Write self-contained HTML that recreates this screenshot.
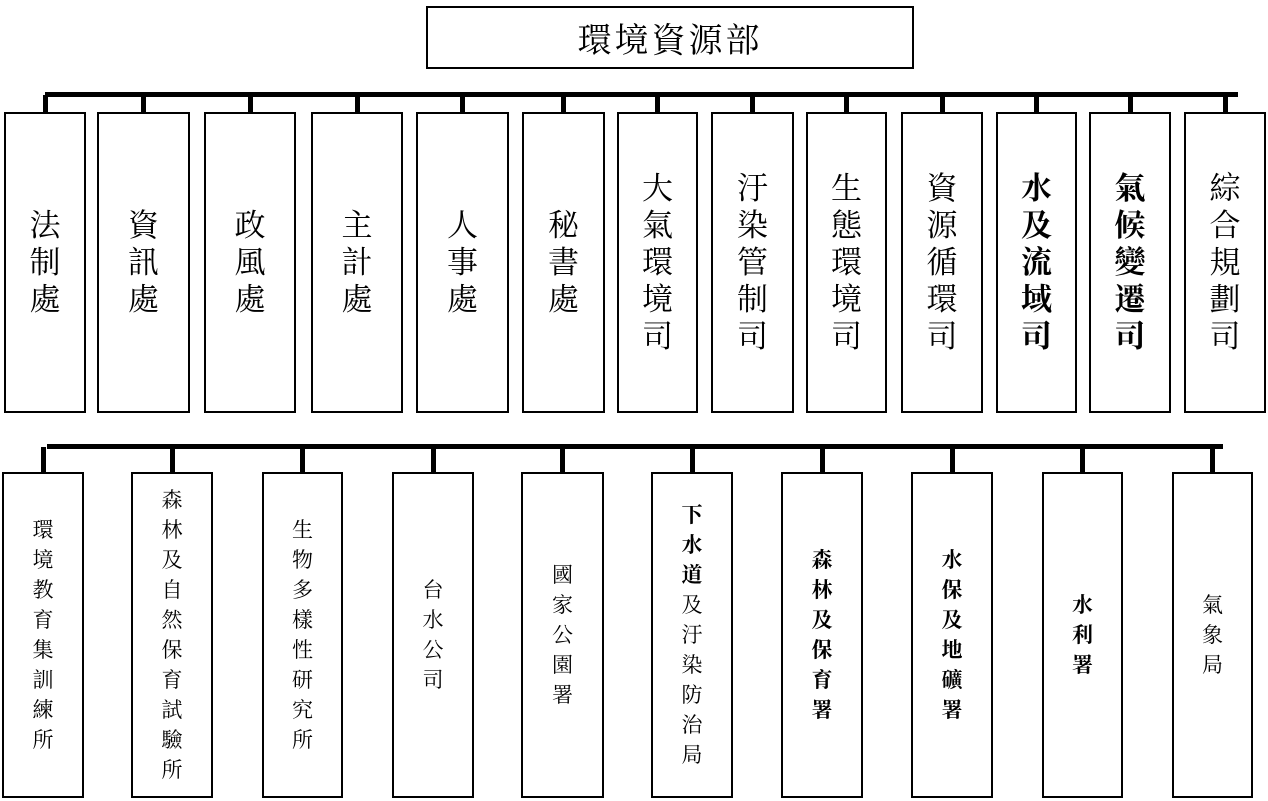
<!DOCTYPE html>
<html><head><meta charset="utf-8"><style>
body{margin:0;width:1268px;height:801px;background:#fff;position:relative;overflow:hidden;font-family:"Liberation Serif","Noto Serif CJK SC","Noto Serif CJK TC",serif;color:#000}
.b{position:absolute;box-sizing:border-box;border:2px solid #000;background:#fff;display:flex;align-items:center;justify-content:center;text-align:center}
.r1{top:112px;height:301px;font-size:31px;line-height:37px}
.r2{top:472px;height:326px;font-size:21px;line-height:30px}
.l{position:absolute;background:#000}
.bold{font-weight:bold}
</style></head><body>
<div class="b" style="left:426px;top:6px;width:488px;height:63px;font-size:34px;letter-spacing:3px">環境資源部</div>
<div class="l" style="left:45px;top:92px;width:1193px;height:5px"></div>
<div class="l" style="left:47px;top:444px;width:1176px;height:5px"></div>
<div id="c"></div>
<script>
const r1=[[4,86,"法制處"],[97,190,"資訊處"],[204,296,"政風處"],[311,403,"主計處"],[416,509,"人事處"],[522,605,"秘書處"],[617,698,"大氣環境司"],[711,794,"汙染管制司"],[806,887,"生態環境司"],[901,983,"資源循環司"],[996,1077,"水及流域司",1],[1089,1171,"氣候變遷司",1],[1184,1266,"綜合規劃司"]];
const r2=[[2,84,"環境教育集訓練所"],[131,213,"森林及自然保育試驗所"],[262,343,"生物多樣性研究所"],[392,474,"台水公司"],[521,604,"國家公園署"],[651,733,"下水道及汙染防治局",0,3],[781,863,"森林及保育署",1],[911,993,"水保及地礦署",1],[1042,1123,"水利署",1],[1172,1253,"氣象局"]];
let h="";
for(const [a,b,t,bd] of r1){const cx=(a+b)/2;h+=`<div class="l" style="left:${cx-2.5}px;top:95px;width:5px;height:18px"></div><div class="b r1${bd?' bold':''}" style="left:${a}px;width:${b-a}px"><div>${[...t].join('<br>')}</div></div>`;}
for(const [a,b,t,bd,nb] of r2){const cx=(a+b)/2;let s=[...t].map((c,i)=>nb&&i<nb?`<b>${c}</b>`:c).join('<br>');h+=`<div class="l" style="left:${cx-2.5}px;top:447px;width:5px;height:26px"></div><div class="b r2${bd?' bold':''}" style="left:${a}px;width:${b-a}px"><div>${s}</div></div>`;}
document.getElementById('c').innerHTML=h;
</script>
</body></html>
